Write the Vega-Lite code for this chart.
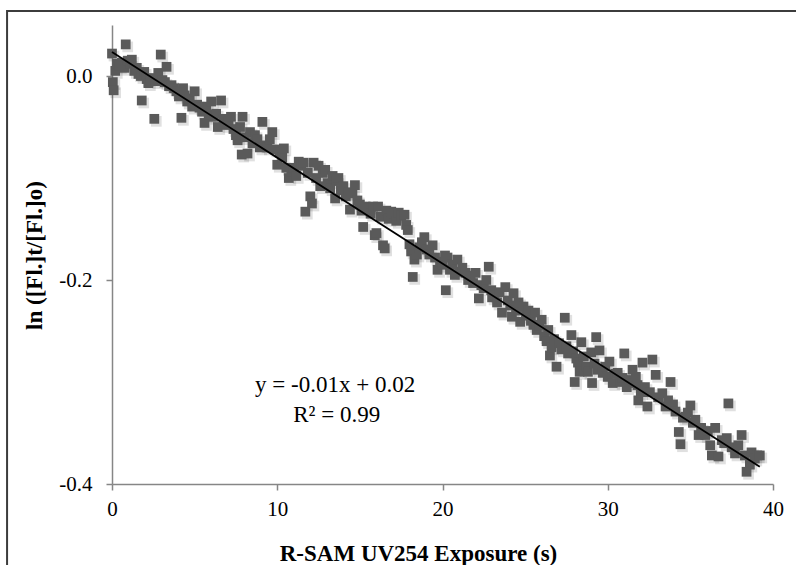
{
  "$schema": "https://vega.github.io/schema/vega-lite/v6.json",
  "width": 661,
  "height": 459,
  "autosize": "none",
  "padding": {"left": 112, "top": 25, "right": 23, "bottom": 81},
  "background": "white",
  "config": {
    "view": {"stroke": null},
    "axis": {
      "domainColor": "#868686", "tickColor": "#868686", "domainWidth": 1.5, "tickWidth": 1.5, "tickSize": 6,
      "grid": false, "labelFont": "Liberation Serif", "labelFontSize": 21, "labelColor": "#000", "labelFlush": false,
      "titleFont": "Liberation Serif", "titleFontSize": 23, "titleFontWeight": "bold", "titleColor": "#000"
    }
  },
  "datasets": {
    "pts": [
{"t":0.0,"v":0.022},{"t":0.05,"v":-0.006},{"t":0.1,"v":-0.014},{"t":0.2,"v":0.005},{"t":0.3,"v":0.012},{"t":0.45,"v":0.01},{"t":0.6,"v":0.013},{"t":0.75,"v":0.008},{"t":0.83,"v":0.031},{"t":0.95,"v":0.015},
{"t":1.1,"v":0.012},{"t":1.2,"v":0.016},{"t":1.35,"v":0.005},{"t":1.5,"v":0.008},{"t":1.6,"v":0.002},{"t":1.75,"v":0.0},{"t":1.8,"v":-0.024},{"t":1.95,"v":0.004},{"t":2.1,"v":-0.003},{"t":2.2,"v":-0.007},
{"t":2.35,"v":-0.002},{"t":2.56,"v":-0.042},{"t":2.65,"v":-0.005},{"t":2.8,"v":0.003},{"t":2.95,"v":0.021},{"t":3.05,"v":-0.004},{"t":3.2,"v":-0.006},{"t":3.3,"v":0.009},{"t":3.45,"v":-0.01},{"t":3.6,"v":-0.009},
{"t":3.75,"v":-0.012},{"t":3.9,"v":-0.015},{"t":4.05,"v":-0.02},{"t":4.2,"v":-0.041},{"t":4.3,"v":-0.012},{"t":4.4,"v":-0.019},{"t":4.55,"v":-0.025},{"t":4.7,"v":-0.022},{"t":4.85,"v":-0.03},{"t":5.0,"v":-0.015},
{"t":5.15,"v":-0.028},{"t":5.3,"v":-0.031},{"t":5.45,"v":-0.035},{"t":5.6,"v":-0.046},{"t":5.7,"v":-0.03},{"t":5.85,"v":-0.038},{"t":6.0,"v":-0.025},{"t":6.15,"v":-0.04},{"t":6.3,"v":-0.037},{"t":6.4,"v":-0.05},
{"t":6.6,"v":-0.024},{"t":6.75,"v":-0.042},{"t":6.9,"v":-0.048},{"t":7.05,"v":-0.045},{"t":7.2,"v":-0.04},{"t":7.35,"v":-0.052},{"t":7.5,"v":-0.058},{"t":7.6,"v":-0.063},{"t":7.75,"v":-0.05},{"t":7.85,"v":-0.077},
{"t":7.9,"v":-0.04},{"t":8.05,"v":-0.06},{"t":8.2,"v":-0.076},{"t":8.35,"v":-0.055},{"t":8.5,"v":-0.066},{"t":8.65,"v":-0.058},{"t":8.8,"v":-0.062},{"t":8.95,"v":-0.07},{"t":9.1,"v":-0.045},{"t":9.25,"v":-0.068},
{"t":9.4,"v":-0.07},{"t":9.55,"v":-0.062},{"t":9.7,"v":-0.055},{"t":9.85,"v":-0.072},{"t":10.0,"v":-0.087},{"t":10.15,"v":-0.075},{"t":10.3,"v":-0.08},{"t":10.4,"v":-0.071},{"t":10.55,"v":-0.09},{"t":10.7,"v":-0.1},
{"t":10.85,"v":-0.094},{"t":11.0,"v":-0.09},{"t":11.15,"v":-0.098},{"t":11.3,"v":-0.084},{"t":11.45,"v":-0.088},{"t":11.6,"v":-0.085},{"t":11.7,"v":-0.133},{"t":11.85,"v":-0.095},{"t":12.0,"v":-0.118},{"t":12.1,"v":-0.125},
{"t":12.2,"v":-0.085},{"t":12.35,"v":-0.1},{"t":12.5,"v":-0.088},{"t":12.6,"v":-0.108},{"t":12.75,"v":-0.095},{"t":12.9,"v":-0.092},{"t":13.05,"v":-0.105},{"t":13.2,"v":-0.11},{"t":13.35,"v":-0.098},{"t":13.5,"v":-0.12},
{"t":13.6,"v":-0.103},{"t":13.7,"v":-0.1},{"t":13.85,"v":-0.112},{"t":14.0,"v":-0.108},{"t":14.15,"v":-0.118},{"t":14.3,"v":-0.114},{"t":14.4,"v":-0.131},{"t":14.55,"v":-0.115},{"t":14.7,"v":-0.107},{"t":14.85,"v":-0.122},
{"t":15.0,"v":-0.126},{"t":15.1,"v":-0.132},{"t":15.2,"v":-0.148},{"t":15.35,"v":-0.128},{"t":15.5,"v":-0.13},{"t":15.65,"v":-0.135},{"t":15.8,"v":-0.128},{"t":15.9,"v":-0.156},{"t":16.0,"v":-0.154},{"t":16.1,"v":-0.128},
{"t":16.25,"v":-0.138},{"t":16.4,"v":-0.166},{"t":16.5,"v":-0.169},{"t":16.6,"v":-0.132},{"t":16.75,"v":-0.14},{"t":16.9,"v":-0.133},{"t":17.05,"v":-0.135},{"t":17.2,"v":-0.142},{"t":17.35,"v":-0.134},{"t":17.5,"v":-0.137},
{"t":17.7,"v":-0.136},{"t":17.8,"v":-0.146},{"t":17.9,"v":-0.151},{"t":18.0,"v":-0.165},{"t":18.1,"v":-0.172},{"t":18.2,"v":-0.197},{"t":18.3,"v":-0.18},{"t":18.45,"v":-0.175},{"t":18.6,"v":-0.168},{"t":18.75,"v":-0.163},
{"t":18.9,"v":-0.158},{"t":19.05,"v":-0.17},{"t":19.2,"v":-0.175},{"t":19.4,"v":-0.166},{"t":19.55,"v":-0.178},{"t":19.7,"v":-0.19},{"t":19.85,"v":-0.182},{"t":20.0,"v":-0.185},{"t":20.15,"v":-0.176},{"t":20.2,"v":-0.21},
{"t":20.3,"v":-0.178},{"t":20.45,"v":-0.19},{"t":20.6,"v":-0.185},{"t":20.75,"v":-0.195},{"t":20.9,"v":-0.18},{"t":21.05,"v":-0.192},{"t":21.2,"v":-0.188},{"t":21.4,"v":-0.193},{"t":21.55,"v":-0.2},{"t":21.7,"v":-0.196},
{"t":21.85,"v":-0.203},{"t":22.0,"v":-0.193},{"t":22.2,"v":-0.218},{"t":22.35,"v":-0.205},{"t":22.5,"v":-0.208},{"t":22.65,"v":-0.2},{"t":22.8,"v":-0.187},{"t":22.95,"v":-0.21},{"t":23.0,"v":-0.217},{"t":23.15,"v":-0.215},
{"t":23.3,"v":-0.222},{"t":23.45,"v":-0.212},{"t":23.6,"v":-0.232},{"t":23.8,"v":-0.207},{"t":23.95,"v":-0.22},{"t":24.1,"v":-0.225},{"t":24.2,"v":-0.236},{"t":24.3,"v":-0.213},{"t":24.45,"v":-0.23},{"t":24.6,"v":-0.222},
{"t":24.7,"v":-0.241},{"t":24.9,"v":-0.226},{"t":25.05,"v":-0.235},{"t":25.2,"v":-0.23},{"t":25.35,"v":-0.24},{"t":25.5,"v":-0.244},{"t":25.6,"v":-0.232},{"t":25.7,"v":-0.249},{"t":25.85,"v":-0.245},{"t":26.0,"v":-0.239},
{"t":26.15,"v":-0.255},{"t":26.3,"v":-0.26},{"t":26.4,"v":-0.249},{"t":26.5,"v":-0.274},{"t":26.6,"v":-0.266},{"t":26.75,"v":-0.258},{"t":26.9,"v":-0.285},{"t":27.05,"v":-0.262},{"t":27.2,"v":-0.268},{"t":27.4,"v":-0.237},
{"t":27.5,"v":-0.265},{"t":27.6,"v":-0.272},{"t":27.8,"v":-0.254},{"t":27.9,"v":-0.27},{"t":28.0,"v":-0.3},{"t":28.1,"v":-0.277},{"t":28.2,"v":-0.281},{"t":28.3,"v":-0.29},{"t":28.4,"v":-0.261},{"t":28.55,"v":-0.275},
{"t":28.7,"v":-0.285},{"t":28.8,"v":-0.29},{"t":29.0,"v":-0.271},{"t":29.05,"v":-0.301},{"t":29.2,"v":-0.282},{"t":29.3,"v":-0.256},{"t":29.4,"v":-0.288},{"t":29.5,"v":-0.269},{"t":29.7,"v":-0.291},{"t":29.85,"v":-0.285},
{"t":30.0,"v":-0.295},{"t":30.1,"v":-0.28},{"t":30.3,"v":-0.301},{"t":30.45,"v":-0.292},{"t":30.6,"v":-0.291},{"t":30.75,"v":-0.3},{"t":30.9,"v":-0.296},{"t":31.0,"v":-0.272},{"t":31.15,"v":-0.305},{"t":31.3,"v":-0.298},
{"t":31.5,"v":-0.288},{"t":31.55,"v":-0.301},{"t":31.7,"v":-0.295},{"t":31.8,"v":-0.303},{"t":31.85,"v":-0.318},{"t":32.0,"v":-0.31},{"t":32.1,"v":-0.281},{"t":32.25,"v":-0.305},{"t":32.4,"v":-0.324},{"t":32.55,"v":-0.31},
{"t":32.7,"v":-0.278},{"t":32.9,"v":-0.293},{"t":33.05,"v":-0.315},{"t":33.3,"v":-0.311},{"t":33.5,"v":-0.324},{"t":33.65,"v":-0.318},{"t":33.8,"v":-0.3},{"t":33.95,"v":-0.322},{"t":34.1,"v":-0.329},{"t":34.3,"v":-0.349},
{"t":34.4,"v":-0.361},{"t":34.55,"v":-0.335},{"t":34.7,"v":-0.334},{"t":34.85,"v":-0.33},{"t":35.0,"v":-0.323},{"t":35.15,"v":-0.34},{"t":35.3,"v":-0.337},{"t":35.5,"v":-0.352},{"t":35.65,"v":-0.345},{"t":35.9,"v":-0.352},
{"t":36.05,"v":-0.348},{"t":36.2,"v":-0.362},{"t":36.3,"v":-0.372},{"t":36.5,"v":-0.345},{"t":36.7,"v":-0.373},{"t":36.9,"v":-0.357},{"t":37.05,"v":-0.36},{"t":37.2,"v":-0.355},{"t":37.3,"v":-0.321},{"t":37.5,"v":-0.364},
{"t":37.7,"v":-0.37},{"t":37.9,"v":-0.362},{"t":38.1,"v":-0.352},{"t":38.3,"v":-0.372},{"t":38.4,"v":-0.388},{"t":38.6,"v":-0.381},{"t":38.7,"v":-0.369},{"t":38.9,"v":-0.375},{"t":39.05,"v":-0.372},{"t":39.2,"v":-0.372}
    ],
    "trend": [{"t": 0, "v": 0.0235}, {"t": 39.2, "v": -0.383}],
    "notes": [
      {"t": 13.5, "v": -0.310, "label": "y = -0.01x + 0.02"},
      {"t": 13.6, "v": -0.339, "label": "R² = 0.99"}
    ],
    "frame": [{"x1": -6.35, "x2": 43, "y1": 0.0637, "y2": -0.6}]
  },
  "layer": [
    {
      "data": {"name": "frame"},
      "mark": {"type": "rect", "fill": null, "stroke": "#3c3c3c", "strokeWidth": 2},
      "encoding": {
        "x": {"field": "x1", "type": "quantitative", "scale": {"domain": [0, 40]}},
        "x2": {"field": "x2"},
        "y": {"field": "y1", "type": "quantitative", "scale": {"domain": [-0.4, 0.05]}},
        "y2": {"field": "y2"}
      }
    },
    {
      "data": {"name": "pts"},
      "mark": {"type": "square", "size": 115, "color": "#000", "opacity": 0.12, "xOffset": 2, "yOffset": 2.5},
      "encoding": {
        "x": {"field": "t", "type": "quantitative"},
        "y": {"field": "v", "type": "quantitative"}
      }
    },
    {
      "data": {"name": "pts"},
      "mark": {"type": "square", "size": 95, "color": "#5a5a5a", "opacity": 1},
      "encoding": {
        "x": {"field": "t", "type": "quantitative",
          "scale": {"domain": [0, 40], "nice": false},
          "axis": {"values": [0, 10, 20, 30, 40], "title": "R-SAM UV254 Exposure (s)", "labelPadding": 8, "titleX": 306, "titleY": 76, "titleBaseline": "alphabetic", "titleAnchor": "middle"}},
        "y": {"field": "v", "type": "quantitative",
          "scale": {"domain": [-0.4, 0.05], "nice": false, "zero": false},
          "axis": {"values": [-0.4, -0.2, 0.0], "title": "ln ([Fl.]t/[Fl.]o)", "labelPadding": 14,
            "labelExpr": "replace(format(datum.value, '.1f'), '\u2212', '-')",
            "titleX": -78, "titleY": 230, "titleBaseline": "middle", "titleAngle": -90, "titleAnchor": "middle"}}
      }
    },
    {
      "data": {"name": "trend"},
      "mark": {"type": "line", "color": "#000", "strokeWidth": 1.8},
      "encoding": {
        "x": {"field": "t", "type": "quantitative"},
        "y": {"field": "v", "type": "quantitative"}
      }
    },
    {
      "data": {"name": "notes"},
      "mark": {"type": "text", "font": "Liberation Serif", "fontSize": 23, "color": "#000", "align": "center", "baseline": "alphabetic"},
      "encoding": {
        "x": {"field": "t", "type": "quantitative"},
        "y": {"field": "v", "type": "quantitative"},
        "text": {"field": "label"}
      }
    }
  ]
}
